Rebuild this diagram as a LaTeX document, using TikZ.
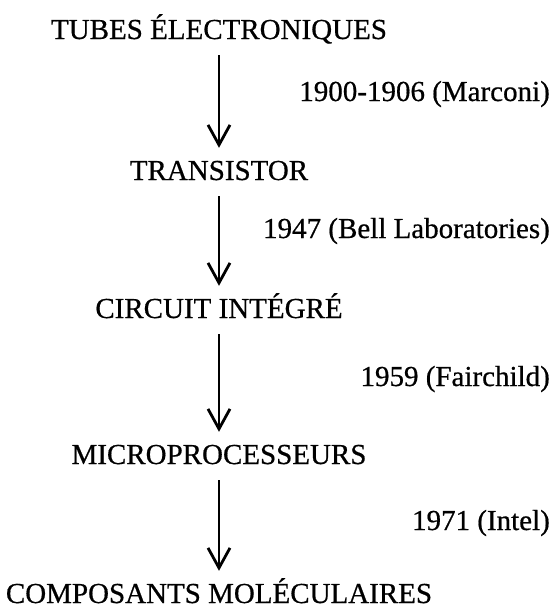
\documentclass[tikz,border=0pt]{standalone}
\usepackage{fontspec}
\setmainfont{Liberation Serif}[FakeBold=0.6]
\usetikzlibrary{arrows.meta}
\begin{document}
\begin{tikzpicture}[x=1pt,y=-1pt,
  main/.style={anchor=base, inner sep=0pt, text height=20pt, text depth=0pt, font=\fontsize{29}{34}\selectfont},
  lab/.style={anchor=base east, inner sep=0pt, font=\fontsize{29}{34}\selectfont},
  arr/.style={line width=1.9pt, shorten <=16pt, shorten >=12pt,
    -{Straight Barb[length=20pt,width=22pt,line width=2.8pt]}}]
\useasboundingbox (0,0) rectangle (554,608);
\node[main] (t1) at (219,39)  {TUBES ÉLECTRONIQUES};
\node[main] (t2) at (219,180) {TRANSISTOR};
\node[main] (t3) at (219,318) {CIRCUIT INTÉGRÉ};
\node[main] (t4) at (219,464) {MICROPROCESSEURS};
\node[main] (t5) at (219,603) {COMPOSANTS MOLÉCULAIRES};
\node[lab] (l1) at (550,101) {1900-1906 (Marconi)};
\node[lab] (l2) at (550,238) {1947 (Bell Laboratories)};
\node[lab] (l3) at (550,386) {1959 (Fairchild)};
\node[lab] (l4) at (550,530) {1971 (Intel)};
\draw[arr] (t1.south) -- (t2.north);
\draw[arr] (t2.south) -- (t3.north);
\draw[arr] (t3.south) -- (t4.north);
\draw[arr] (t4.south) -- (t5.north);
\end{tikzpicture}
\end{document}
